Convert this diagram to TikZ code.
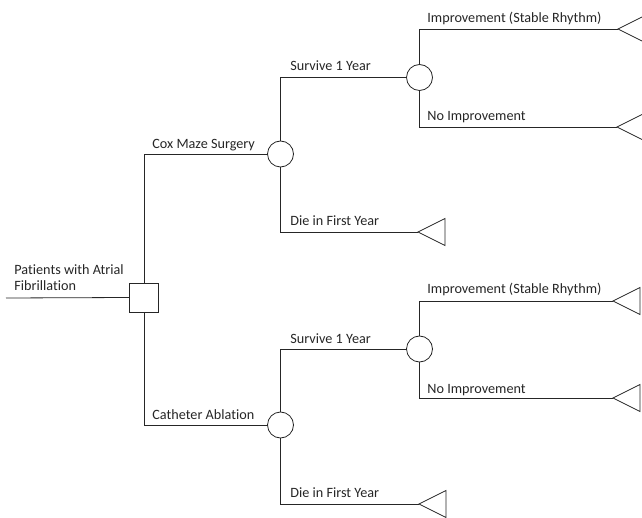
\documentclass[tikz,border=0pt]{standalone}
\usepackage{fontspec}
\setmainfont{Carlito}[Ligatures={NoCommon}]
\begin{document}
\begin{tikzpicture}[x=1pt,y=-1pt,line width=0.8pt,draw=black!85,
  chance/.style={circle,draw,minimum size=26pt,inner sep=0pt},
  decision/.style={rectangle,draw,minimum size=29pt,inner sep=0pt},
  lbl/.style={anchor=base west,inner sep=0pt,text=black!85,font=\fontsize{14.2}{17}\selectfont},
  termtri/.style={draw,line join=miter}]
\useasboundingbox (0,0) rectangle (642,518);
\clip (0,0) rectangle (642,518);
% nodes
\coordinate (start) at (6,298);
\node[decision] (d) at (144,297.5) {};
\node[chance] (c1) at (280.5,154) {};
\node[chance] (c2) at (419.5,77.5) {};
\node[chance] (c3) at (280.5,425) {};
\node[chance] (c4) at (419.5,349) {};
\coordinate (t1) at (618,29);
\coordinate (t2) at (617,127);
\coordinate (t3) at (418,232);
\coordinate (t4) at (613,301);
\coordinate (t5) at (613,398);
\coordinate (t6) at (419,504);
% terminal triangles
\foreach \t in {t1,t2,t3,t4,t5,t6}
  \draw[termtri] (\t) -- ++(27,-13.5) -- ++(0,27) -- cycle;
% connectors
\draw (start) -- (d.west);
\draw (d.north) |- (c1.west);
\draw (d.south) |- (c3.west);
\draw (c1.north) |- (c2.west);
\draw (c1.south) |- (t3);
\draw (c2.north) |- (t1);
\draw (c2.south) |- (t2);
\draw (c3.north) |- (c4.west);
\draw (c3.south) |- (t6);
\draw (c4.north) |- (t4);
\draw (c4.south) |- (t5);
% labels
\node[lbl] (l0a) at (14,275) {Patients with Atrial};
\node[lbl] (l0b) at (14,291) {Fibrillation};
\node[lbl] (l1) at (152,149) {Cox Maze Surgery};
\node[lbl] (l2) at (152,419) {Catheter Ablation};
\node[lbl] (l3) at (290,71) {Survive 1 Year};
\node[lbl] (l4) at (290,343) {Survive 1 Year};
\node[lbl] (l5) at (290,226) {Die in First Year};
\node[lbl] (l6) at (290,497) {Die in First Year};
\node[lbl] (l7) at (427,23) {Improvement (Stable Rhythm)};
\node[lbl] (l8) at (427,121) {No Improvement};
\node[lbl] (l9) at (427,294) {Improvement (Stable Rhythm)};
\node[lbl] (l10) at (427,393) {No Improvement};
\end{tikzpicture}
\end{document}
